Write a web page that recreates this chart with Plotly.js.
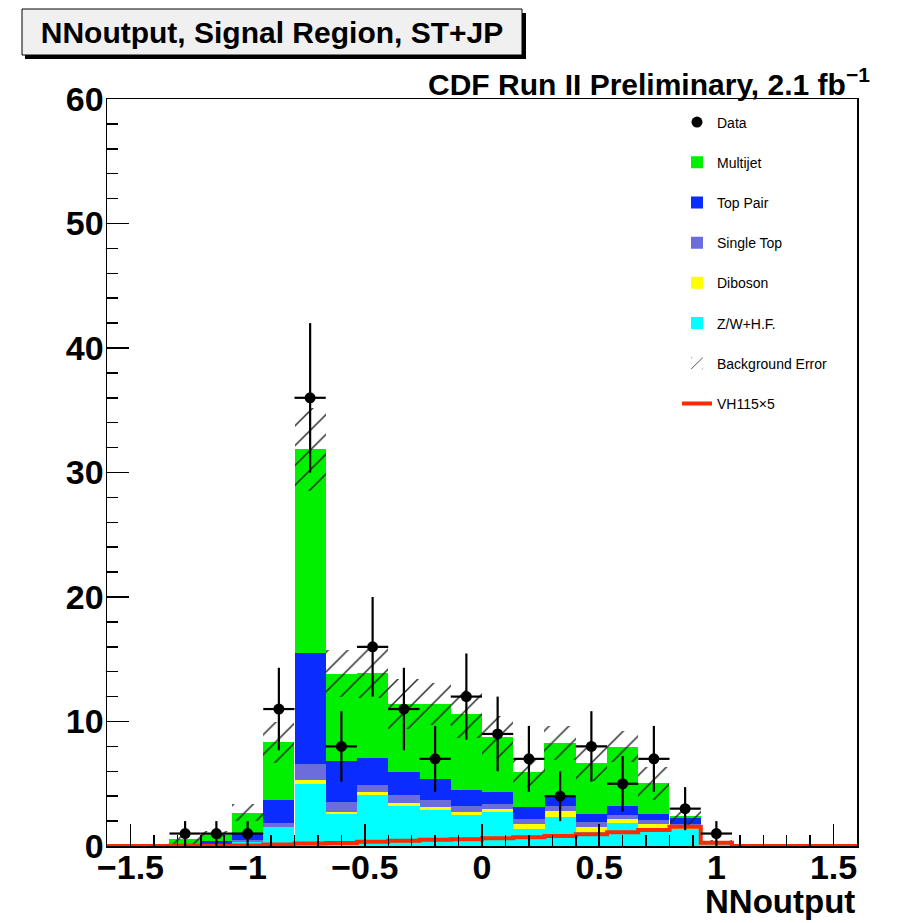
<!DOCTYPE html>
<html><head><meta charset="utf-8">
<script src="https://cdn.plot.ly/plotly-3.0.1.min.js"></script>
<style>html,body{margin:0;padding:0;background:#fff}#chart{width:897px;height:923px}</style>
</head><body><div id="chart"></div>
<script>
// 24 bins from -1.6 to 1.6
const binCenters = [-1.5333,-1.4,-1.2667,-1.1333,-1.0,-0.8667,-0.7333,-0.6,-0.4667,-0.3333,-0.2,-0.0667,
                    0.0667,0.2,0.3333,0.4667,0.6,0.7333,0.8667,1.0,1.1333,1.2667,1.4,1.5333];
const binWidth = 0.13333;

const zwHF     = [0,0,0.05,0.10,0.30,1.50,5.00,2.60,4.10,3.20,2.90,2.50,2.70,1.35,2.35,1.10,1.82,1.42,1.35,0.25,0,0,0,0];
const diboson  = [0,0,0.00,0.00,0.02,0.05,0.30,0.15,0.20,0.28,0.20,0.25,0.30,0.40,0.48,0.45,0.35,0.35,0.15,0.02,0,0,0,0];
const singleTop= [0,0,0.02,0.05,0.15,0.30,1.25,0.80,0.60,0.60,0.60,0.45,0.37,0.40,0.37,0.35,0.32,0.32,0.30,0.02,0,0,0,0];
const topPair  = [0,0,0.05,0.25,0.50,1.85,8.95,3.30,2.20,1.90,1.70,1.30,0.93,0.97,0.80,0.70,0.75,0.48,0.45,0.03,0,0,0,0];
const multijet = [0,0,0.43,0.50,1.70,4.65,16.35,7.00,6.80,5.40,6.00,6.10,4.48,2.80,4.25,4.05,4.74,2.46,0.15,0.00,0,0,0,0];
const bkgError = [0,0,0.35,0.30,0.70,1.65,3.30,1.90,2.00,2.00,1.70,1.90,1.70,1.15,1.35,1.45,1.25,1.30,0.75,0.15,0,0,0,0];
const signalVH = [0,0,0.02,0.03,0.05,0.12,0.20,0.25,0.35,0.42,0.50,0.55,0.62,0.70,0.80,0.95,1.10,1.28,1.55,0.27,0,0,0,0];
const dataCounts=[0,0,1,1,1,11,36,8,16,11,7,12,9,7,4,8,5,7,3,1,0,0,0,0];

const FONT = "'Liberation Sans', Arial, Helvetica, sans-serif";
const components = [
  {name:'Z/W+H.F.', vals:zwHF, color:'#00ffff', rank:6},
  {name:'Diboson', vals:diboson, color:'#ffff00', rank:5},
  {name:'Single Top', vals:singleTop, color:'#6c6cdc', rank:4},
  {name:'Top Pair', vals:topPair, color:'#0a2cff', rank:3},
  {name:'Multijet', vals:multijet, color:'#00f000', rank:2}
];

const traces = [];
let cum = binCenters.map(()=>0);
components.forEach((c,i)=>{
  traces.push({
    type:'bar', name:c.name, x:binCenters, y:c.vals.slice(), base:cum.slice(),
    width:binWidth, marker:{color:c.color, line:{width:0}},
    legendrank:c.rank, legendgroup:'g'+i, hoverinfo:'skip'
  });
  cum = cum.map((v,k)=>v + c.vals[k]);
});
const total = cum;

// background error hatch
const errIdx = binCenters.map((_,k)=>k).filter(k=>bkgError[k]>0);
traces.push({
  type:'bar', name:'Background Error',
  x:errIdx.map(k=>binCenters[k]), y:errIdx.map(k=>2*bkgError[k]),
  base:errIdx.map(k=>total[k]-bkgError[k]), width:binWidth,
  marker:{color:'rgba(0,0,0,0)', line:{width:0},
    pattern:{shape:'/', fgcolor:'#222', fgopacity:1, bgcolor:'rgba(0,0,0,0)', size:14, solidity:0.1, fillmode:'overlay'}},
  legendrank:7, legendgroup:'ge', hoverinfo:'skip'
});

// signal step line
const edges = binCenters.map(c=>c-binWidth/2).concat([binCenters[binCenters.length-1]+binWidth/2]);
traces.push({
  type:'scatter', mode:'lines', name:'VH115×5',
  x:edges, y:signalVH.concat([signalVH[signalVH.length-1]]),
  line:{shape:'hv', color:'#ff2a00', width:4},
  legendrank:8, legendgroup:'gs', hoverinfo:'skip'
});

// data
const dIdx = binCenters.map((_,k)=>k).filter(k=>dataCounts[k]>0);
traces.push({
  type:'scatter', mode:'markers', name:'Data',
  x:dIdx.map(k=>binCenters[k]), y:dIdx.map(k=>dataCounts[k]),
  marker:{color:'#000', size:11},
  error_y:{type:'data', array:dIdx.map(k=>Math.sqrt(dataCounts[k])), color:'#000', thickness:2.2, width:0},
  error_x:{type:'constant', value:binWidth/2, color:'#000', thickness:2.2, width:0},
  legendrank:1, legendgroup:'gd', hoverinfo:'skip'
});

const axisCommon = {
  ticks:'inside', tickcolor:'#000', tickwidth:1.5, ticklen:22,
  showline:true, linecolor:'#000', linewidth:1.5, mirror:true,
  showgrid:false, zeroline:false,
  tickfont:{family:FONT, size:34, weight:'bold', color:'#000'}
};

const layout = {
  width:897, height:923,
  margin:{l:107, r:40, t:99, b:77},
  paper_bgcolor:'#fff', plot_bgcolor:'#fff',
  barmode:'overlay', bargap:0,
  title:{text:'NNoutput, Signal Region, ST+JP', font:{family:FONT, size:30, weight:'bold', color:'#000'},
    xref:'container', yref:'container', x:272/897, xanchor:'center', y:1-32/923, yanchor:'middle'},
  xaxis:Object.assign({}, axisCommon, {range:[-1.6,1.6], dtick:0.5, tick0:0, ticklabelstandoff:-9,
    minor:{dtick:0.1, ticks:'inside', ticklen:11, tickwidth:1.5, tickcolor:'#000', showgrid:false}}),
  yaxis:Object.assign({}, axisCommon, {range:[0,60], dtick:10, tick0:0, ticklabelstandoff:-5,
    minor:{dtick:2, ticks:'inside', ticklen:11, tickwidth:1.5, tickcolor:'#000', showgrid:false}}),
  legend:{x:0.76, y:0.99, xanchor:'left', yanchor:'top', bgcolor:'#fff', borderwidth:0,
    font:{family:FONT, size:14, color:'#000'}, traceorder:'grouped', tracegroupgap:19},
  annotations:[
    {text:'CDF Run II Preliminary, 2.1 fb<sup>−1</sup>', xref:'paper', yref:'paper', x:1.02, y:0.994,
     xanchor:'right', yanchor:'bottom', showarrow:false, font:{family:FONT, size:30, weight:'bold', color:'#000'}},
    {text:'NNoutput', xref:'paper', yref:'paper', x:1, y:-0.047, xanchor:'right', yanchor:'top',
     showarrow:false, font:{family:FONT, size:33, weight:'bold', color:'#000'}}
  ],
  shapes:[
    {type:'rect', xref:'paper', yref:'paper', x0:(25-107)/750, x1:(526-107)/750, y0:(846-59)/747, y1:(846-13)/747,
     fillcolor:'#000', line:{width:0}, layer:'below'},
    {type:'rect', xref:'paper', yref:'paper', x0:(22-107)/750, x1:(522-107)/750, y0:(846-55)/747, y1:(846-9)/747,
     fillcolor:'#f0f0f0', line:{color:'#000', width:1}, layer:'below'}
  ]
};

Plotly.newPlot('chart', traces, layout, {displayModeBar:false, staticPlot:true});
</script>
</body></html>
